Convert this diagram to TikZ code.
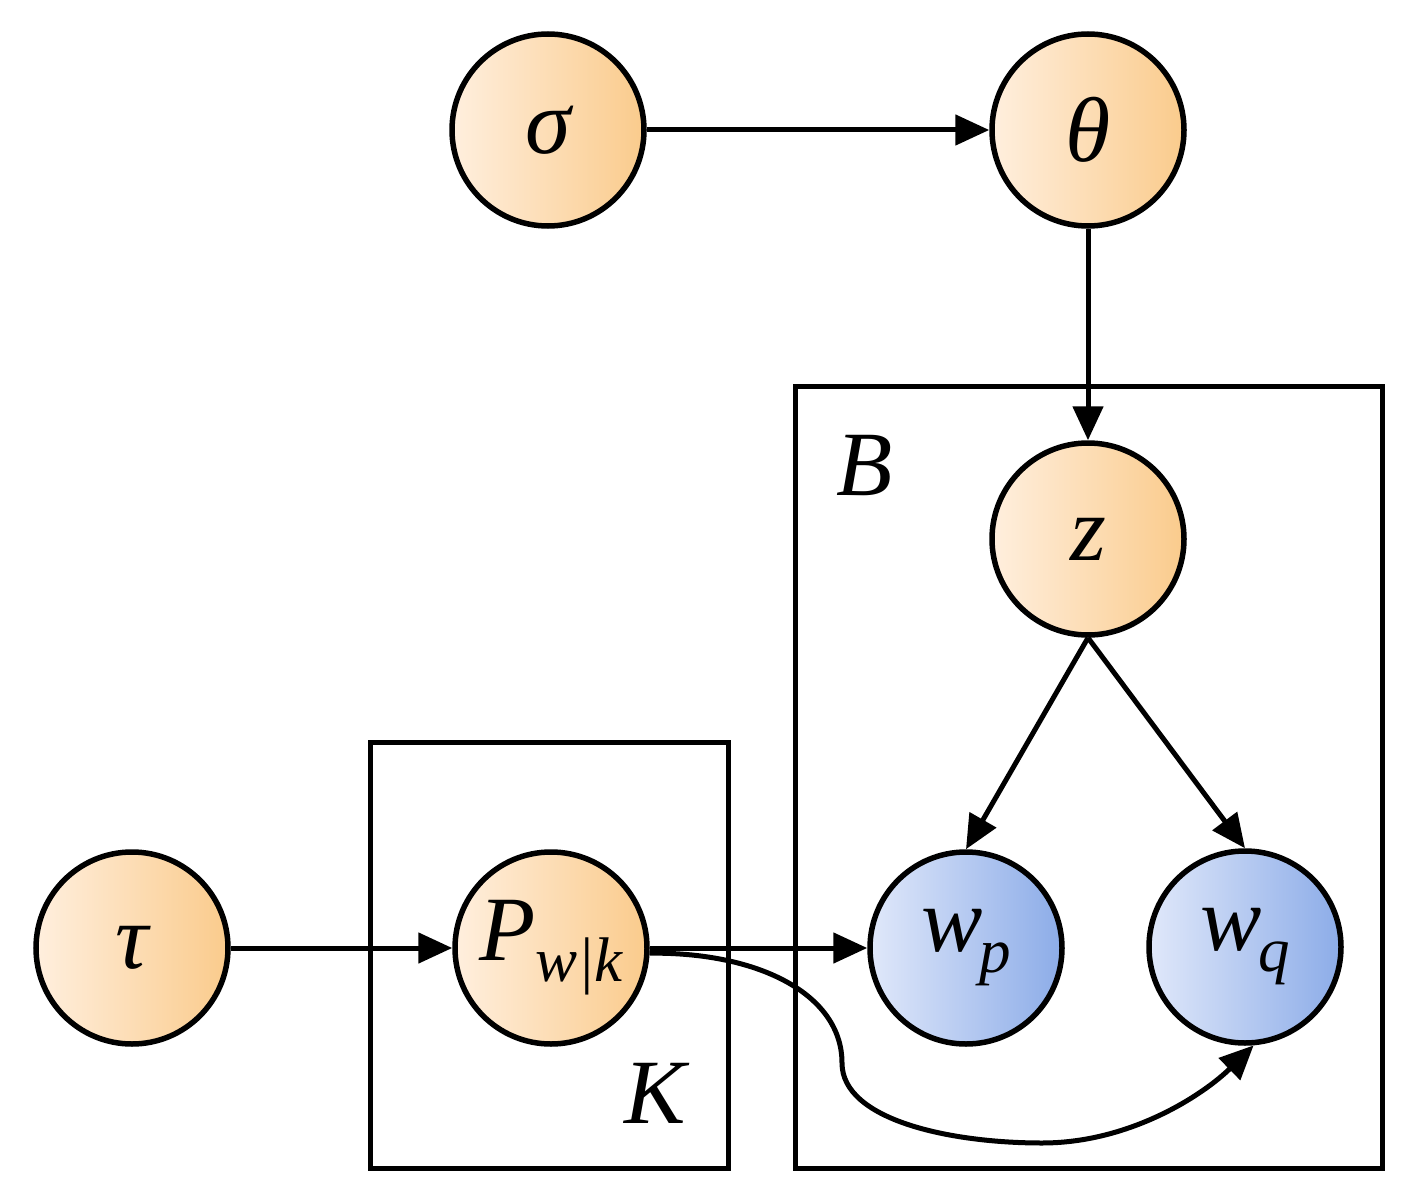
\documentclass[tikz,border=0pt]{standalone}
\usepackage{fontspec}
\setmainfont{Liberation Serif}
\usetikzlibrary{arrows.meta}
\definecolor{oL}{RGB}{255,239,222}
\definecolor{oR}{RGB}{250,203,140}
\definecolor{bL}{RGB}{224,232,250}
\definecolor{bR}{RGB}{140,172,232}
\newcommand\subtxt[1]{\raisebox{-21pt}{\fontsize{63}{70}\selectfont #1}}
\begin{document}
\begin{tikzpicture}[x=1pt,y=-1pt,
  var/.style={circle,draw,line width=5.5pt,minimum size=192pt,inner sep=0pt,
    font=\fontsize{92}{100}\selectfont\itshape},
  orangevar/.style={var,left color=oL,right color=oR},
  bluevar/.style={var,left color=bL,right color=bR},
  arr/.style={line width=5pt,-{Triangle[length=34pt,width=30pt]}},
  plate/.style={draw,line width=5pt,inner sep=0pt},
  platelabel/.style={font=\fontsize{92}{100}\selectfont\itshape,inner sep=0pt}]
\useasboundingbox (0,0) rectangle (1406,1193);
% plates
\node[plate,minimum width=358pt,minimum height=426pt] (Kplate) at (549,955) {};
\node[plate,minimum width=587pt,minimum height=782pt] (Bplate) at (1088.5,777) {};
\node[platelabel] (Blab) at (865,466) {B};
\node[platelabel] (Klab) at (655,1093) {K};
% variables
\node[orangevar] (sigma) at (548,130) {σ};
\node[orangevar] (theta) at (1088,130) {θ};
\node[orangevar] (z) at (1088,539) {z};
\node[orangevar] (tau) at (132,948) {τ};
\node[orangevar] (P) at (551,948) {P\subtxt{w|k}};
\node[bluevar] (wp) at (966,948) {w\kern-3pt\subtxt{p}};
\node[bluevar] (wq) at (1245,947) {w\kern-3pt\subtxt{q}};
% edges
\draw[arr] (sigma) -- (theta);
\draw[arr] (theta) -- (z);
\draw[arr] (z.south) -- (wp.north);
\draw[arr] (z.south) -- (wq.north);
\draw[arr] (tau) -- (P);
\draw[arr] (P) -- (wp);
\draw[arr] (P.-3) .. controls (760,952) and (842,995) .. (842,1063)
  .. controls (842,1120) and (950,1143) .. (1042,1143)
  .. controls (1130,1143) and (1203,1095) .. (wq.-85);
\end{tikzpicture}
\end{document}
